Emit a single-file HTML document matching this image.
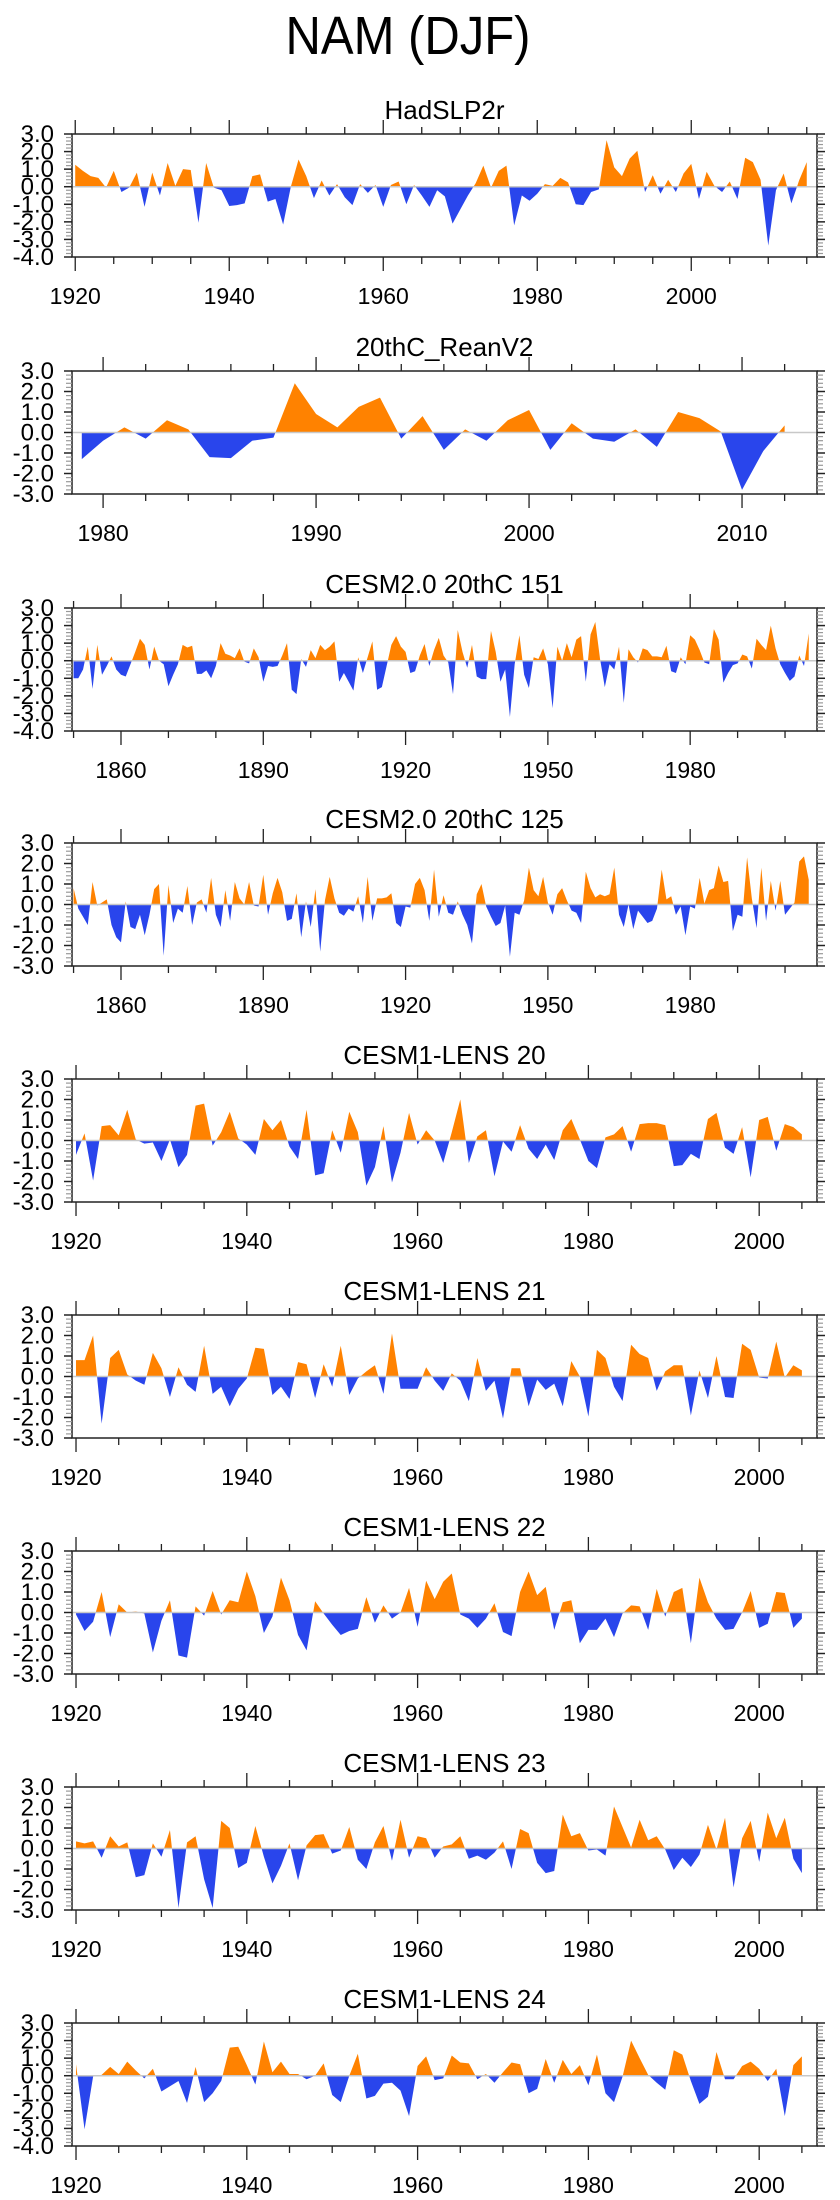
<!DOCTYPE html>
<html>
<head>
<meta charset="utf-8">
<style>
html,body{margin:0;padding:0;background:#fff;}
svg{display:block;}
text{font-family:"Liberation Sans",Arial,sans-serif;fill:#000;}
</style>
</head>
<body>
<svg id="fig" xmlns="http://www.w3.org/2000/svg" width="840" height="2200" viewBox="0 0 840 2200">
<text x="408" y="54" font-size="54" text-anchor="middle" textLength="245" lengthAdjust="spacingAndGlyphs">NAM (DJF)</text>
</svg>
<script>
// ---- data ----
const panelTitles = ["HadSLP2r","20thC_ReanV2","CESM2.0 20thC 151","CESM2.0 20thC 125","CESM1-LENS 20","CESM1-LENS 21","CESM1-LENS 22","CESM1-LENS 23","CESM1-LENS 24"];
const p1StartYear = 1920;
const p1Values = [1.25,0.9,0.6,0.5,-0.05,0.9,-0.3,-0.05,0.8,-1.15,0.8,-0.5,1.35,0.05,1.0,0.95,-2.05,1.35,-0.05,-0.2,-1.1,-1.05,-0.95,0.6,0.7,-0.85,-0.7,-2.15,0.0,1.55,0.6,-0.65,0.35,-0.5,0.15,-0.6,-1.05,0.15,-0.35,0.1,-1.15,0.1,0.3,-1.0,0.1,-0.5,-1.15,-0.2,-0.55,-2.1,-1.3,-0.5,0.2,1.2,-0.05,0.9,1.2,-2.2,-0.5,-0.8,-0.4,0.15,0.05,0.5,0.25,-1.0,-1.05,-0.3,-0.15,2.65,1.1,0.6,1.6,2.05,-0.3,0.65,-0.4,0.4,-0.3,0.75,1.3,-0.7,0.85,0.05,-0.3,0.3,-0.7,1.65,1.4,0.4,-3.35,-0.2,0.75,-0.95,0.35,1.4];
const p2StartYear = 1979;
const p2Values = [-1.3,-0.4,0.25,-0.3,0.6,0.15,-1.2,-1.25,-0.4,-0.25,2.4,0.9,0.25,1.25,1.7,-0.3,0.8,-0.85,0.15,-0.4,0.6,1.1,-0.85,0.45,-0.3,-0.45,0.15,-0.7,1.0,0.7,0.05,-2.8,-0.9,0.35];
const p3StartYear = 1850;
const p3Values = [-1.0,-1.0,-0.5,0.8,-1.6,0.9,-0.8,-0.3,0.25,-0.5,-0.8,-0.9,-0.2,0.5,1.25,0.9,-0.5,0.8,0.0,-0.2,-1.45,-0.8,-0.2,0.9,0.75,0.85,-0.75,-0.75,-0.55,-1.0,-0.3,1.0,0.4,0.3,0.15,0.7,-0.05,-0.15,0.7,0.2,-1.2,-0.3,-0.35,-0.3,0.3,1.0,-1.65,-1.9,0.1,-0.35,0.6,0.15,0.9,0.6,0.8,1.1,-1.2,-0.7,-1.2,-1.7,0.2,-0.7,0.2,1.1,-1.65,-1.5,-0.3,0.9,1.4,0.8,0.5,-0.7,-0.6,0.3,0.95,-0.3,0.6,1.3,0.3,-0.1,-1.9,1.75,0.5,-0.4,0.9,-0.9,-1.05,-1.05,1.7,0.5,-1.2,-0.5,-3.2,-0.2,1.45,-0.8,-1.55,0.2,0.1,0.7,-0.2,-2.7,0.8,0.0,1.0,0.2,1.2,1.4,-1.2,1.5,2.2,0.1,-1.5,-0.2,-0.5,0.8,-2.4,0.65,0.2,-0.1,0.7,0.6,0.25,0.25,0.2,0.85,-0.6,-0.7,0.2,-0.2,1.45,1.2,0.6,-0.1,-0.2,1.8,1.2,-1.25,-0.7,-0.25,-0.15,0.35,0.25,-0.45,1.25,0.9,0.6,2.0,0.7,-0.2,-0.7,-1.15,-0.9,0.3,-0.3,1.55];
const p4StartYear = 1850;
const p4Values = [0.8,-0.2,-0.6,-1.0,1.1,-0.05,0.1,0.25,-1.0,-1.6,-1.85,0.15,-1.1,-1.2,-0.5,-1.5,-0.5,0.75,1.0,-2.5,0.95,-0.9,-0.2,-0.4,0.9,-1.0,0.1,0.25,-0.4,1.3,-0.5,-1.1,0.7,-0.8,1.1,0.3,0.0,1.1,-0.05,-0.1,1.45,-0.5,0.55,1.3,0.6,-0.8,-0.7,0.55,-1.6,0.15,-1.1,0.75,-2.3,0.2,1.35,0.3,-0.4,-0.55,-0.2,-0.35,0.4,-0.9,1.35,-0.8,0.3,0.3,0.35,0.55,-0.9,-1.1,-0.1,-0.15,1.0,1.3,0.7,-0.8,1.7,-0.6,0.45,-0.4,-0.5,0.15,-0.5,-1.0,-1.9,0.5,1.0,-0.1,-0.6,-1.05,-0.9,-0.05,-2.55,-0.4,-0.5,0.2,1.8,0.7,0.4,1.35,0.1,-0.5,0.5,0.8,0.2,-0.3,-0.4,-0.9,1.6,0.8,0.35,0.5,0.4,0.5,1.8,-0.5,-1.1,0.0,-1.2,-0.3,-0.6,-0.9,-0.8,-0.2,1.7,0.25,0.4,-0.5,-0.1,-1.5,-0.1,-0.2,1.3,0.05,0.7,0.8,1.9,1.1,1.15,-1.3,-0.5,-0.6,2.3,0.3,-1.15,1.8,-0.8,1.15,-0.3,1.15,-0.5,-0.2,0.1,2.1,2.35,1.2];
const p5StartYear = 1920;
const p5Values = [-0.7,0.35,-1.95,0.7,0.75,0.25,1.5,0.05,-0.15,-0.1,-1.0,0.05,-1.3,-0.7,1.7,1.8,-0.25,0.4,1.4,0.1,-0.2,-0.7,1.05,0.5,1.0,-0.3,-0.9,1.5,-1.7,-1.6,0.5,-0.6,1.4,0.4,-2.2,-1.3,0.7,-2.05,-0.6,1.35,-0.2,0.5,0.0,-1.1,0.4,2.0,-1.1,0.2,0.5,-1.75,-0.05,-0.55,0.75,-0.4,-0.9,-0.2,-0.95,0.5,1.05,0.05,-1.0,-1.35,0.15,0.3,0.7,-0.55,0.8,0.85,0.85,0.75,-1.25,-1.2,-0.65,-0.9,1.05,1.35,-0.35,-0.65,0.65,-1.8,1.0,1.15,-0.5,0.8,0.65,0.3];
const p6StartYear = 1920;
const p6Values = [0.8,0.8,2.0,-2.3,0.9,1.3,0.1,-0.2,-0.4,1.15,0.4,-1.0,0.45,-0.4,-0.75,1.5,-0.85,-0.5,-1.45,-0.6,-0.1,1.4,1.35,-0.9,-0.5,-1.1,0.7,0.6,-1.05,0.6,-0.5,1.5,-0.9,-0.1,0.25,0.55,-0.85,2.1,-0.6,-0.6,-0.6,0.45,-0.2,-0.7,0.15,-0.2,-1.2,0.9,-0.7,-0.2,-2.05,0.4,0.4,-1.45,-0.15,-0.65,-0.35,-1.45,0.75,0.0,-1.95,1.3,0.9,-0.5,-1.2,1.55,1.1,0.9,-0.7,0.25,0.55,0.55,-1.9,0.3,-1.05,1.0,-1.0,-1.05,1.6,1.3,-0.05,-0.1,1.7,-0.05,0.55,0.3];
const p7StartYear = 1920;
const p7Values = [-0.1,-0.9,-0.45,1.0,-1.2,0.4,0.0,0.05,-0.05,-1.95,-0.4,0.6,-2.1,-2.2,0.3,-0.15,1.05,-0.1,0.6,0.5,2.0,0.8,-1.0,-0.2,1.7,0.6,-1.1,-1.85,0.55,-0.05,-0.6,-1.1,-0.9,-0.8,0.75,-0.5,0.35,-0.3,0.0,1.2,-0.7,1.55,0.65,1.5,1.9,-0.1,-0.3,-0.75,-0.3,0.45,-0.95,-1.15,1.0,2.0,0.85,1.25,-0.85,0.5,0.6,-1.5,-0.85,-0.85,-0.3,-1.2,-0.05,0.35,0.3,-0.85,1.15,-0.2,1.0,1.2,-1.5,1.7,0.5,-0.3,-0.85,-0.8,0.0,1.05,-0.75,-0.55,1.0,0.95,-0.75,-0.3];
const p8StartYear = 1920;
const p8Values = [0.35,0.25,0.35,-0.45,0.6,0.1,0.3,-1.4,-1.3,0.25,-0.4,0.9,-2.9,0.3,0.6,-1.5,-2.9,1.35,1.0,-0.95,-0.7,1.1,-0.4,-1.7,-0.85,0.25,-1.55,0.15,0.65,0.7,-0.25,-0.1,1.05,-0.55,-1.0,0.3,1.1,-0.6,1.4,-0.45,0.6,0.5,-0.45,0.1,0.2,0.6,-0.5,-0.35,-0.55,-0.2,0.35,-1.0,0.95,0.75,-0.7,-1.2,-1.1,1.65,0.6,0.75,-0.1,-0.05,-0.35,2.05,1.05,0.05,1.4,0.4,0.6,-0.05,-1.05,-0.45,-0.9,-0.3,1.15,-0.05,1.5,-1.9,0.5,1.35,-0.65,1.75,0.5,1.5,-0.5,-1.2];
const p9StartYear = 1920;
const p9Values = [0.65,-3.05,-0.05,0.05,0.5,0.1,0.8,0.3,-0.15,0.4,-0.9,-0.6,-0.3,-1.55,0.5,-1.5,-1.0,-0.3,1.6,1.65,0.6,-0.5,1.95,0.2,0.8,0.1,0.1,-0.2,0.0,0.7,-1.1,-1.5,0.0,1.25,-1.3,-1.15,-0.45,-0.4,-0.85,-2.3,0.55,1.1,-0.25,-0.15,1.15,0.75,0.7,-0.2,0.1,-0.4,0.2,0.75,0.65,-1.0,-0.75,0.95,-0.4,0.9,0.1,0.6,-0.55,1.2,-1.0,-1.5,-0.05,2.0,1.0,0.05,-0.4,-0.8,1.45,1.2,-0.3,-1.6,-1.2,1.35,-0.2,-0.2,0.55,0.8,0.4,-0.3,0.4,-2.3,0.6,1.1];
const yTickLabels7 = ["3.0","2.0","1.0","0.0","-1.0","-2.0","-3.0","-4.0"];
const yTickLabels6 = ["3.0","2.0","1.0","0.0","-1.0","-2.0","-3.0"];

// ---- layout ----
const NS = "http://www.w3.org/2000/svg";
const svg = document.getElementById("fig");
const BOX_L = 72, BOX_R = 817, BOX_H = 123;
const panels = [
 {top:134, start:p1StartYear, vals:p1Values, ylab:yTickLabels7, xmin:1919.58, xmax:2016.33, maj:20, min:5},
 {top:371, start:p2StartYear, vals:p2Values, ylab:yTickLabels6, xmin:1978.54, xmax:2013.52, maj:10, min:2},
 {top:608, start:p3StartYear, vals:p3Values, ylab:yTickLabels7, xmin:1849.67, xmax:2006.74, maj:30, min:10},
 {top:843, start:p4StartYear, vals:p4Values, ylab:yTickLabels6, xmin:1849.67, xmax:2006.74, maj:30, min:10},
 {top:1079, start:p5StartYear, vals:p5Values, ylab:yTickLabels6, xmin:1919.53, xmax:2006.77, maj:20, min:5},
 {top:1315, start:p6StartYear, vals:p6Values, ylab:yTickLabels6, xmin:1919.53, xmax:2006.77, maj:20, min:5},
 {top:1551, start:p7StartYear, vals:p7Values, ylab:yTickLabels6, xmin:1919.53, xmax:2006.77, maj:20, min:5},
 {top:1787, start:p8StartYear, vals:p8Values, ylab:yTickLabels6, xmin:1919.53, xmax:2006.77, maj:20, min:5},
 {top:2023, start:p9StartYear, vals:p9Values, ylab:yTickLabels7, xmin:1919.53, xmax:2006.77, maj:20, min:5}
];

function mk(tag, attrs){
  const e = document.createElementNS(NS, tag);
  for (const k in attrs) e.setAttribute(k, attrs[k]);
  return e;
}

panels.forEach(function(p, pi){
  const g = mk("g", {});
  
  
  svg.appendChild(g);
  const top = p.top, bot = p.top + BOX_H;
  const ymax = parseFloat(p.ylab[0]), ymin = parseFloat(p.ylab[p.ylab.length-1]);
  const xs = function(yr){ return BOX_L + (yr - p.xmin) / (p.xmax - p.xmin) * (BOX_R - BOX_L); };
  const ys = function(v){ return top + (ymax - v) / (ymax - ymin) * BOX_H; };

  const t = mk("text", {x:(BOX_L+BOX_R)/2, y:top-15, "font-size":26, "text-anchor":"middle"});
  t.textContent = panelTitles[pi];
  
  
  g.appendChild(t);

  const pts = [];
  for (let i = 0; i < p.vals.length; i++){
    const x = p.start + i, v = p.vals[i];
    if (i > 0){
      const pv = p.vals[i-1];
      if ((pv > 0 && v < 0) || (pv < 0 && v > 0)){
        const f = pv / (pv - v);
        pts.push([x - 1 + f, 0]);
      }
    }
    pts.push([x, v]);
  }
  const x0 = pts[0][0], xn = pts[pts.length-1][0];
  let dPos = "M" + xs(x0) + "," + ys(0);
  let dNeg = "M" + xs(x0) + "," + ys(0);
  pts.forEach(function(q){
    dPos += " L" + xs(q[0]).toFixed(2) + "," + ys(Math.max(q[1],0)).toFixed(2);
    dNeg += " L" + xs(q[0]).toFixed(2) + "," + ys(Math.min(q[1],0)).toFixed(2);
  });
  dPos += " L" + xs(xn) + "," + ys(0) + " Z";
  dNeg += " L" + xs(xn) + "," + ys(0) + " Z";
  const pos = mk("path", {d:dPos, fill:"#ff8200", stroke:"none"});
  
  
  g.appendChild(pos);
  const neg = mk("path", {d:dNeg, fill:"#2945ec", stroke:"none"});
  
  
  g.appendChild(neg);

  const zl = mk("line", {x1:BOX_L, x2:BOX_R, y1:ys(0), y2:ys(0), stroke:"#c8c8c8", "stroke-width":1.5});
  
  
  g.appendChild(zl);

  const box = mk("rect", {x:BOX_L, y:top, width:BOX_R-BOX_L, height:BOX_H, fill:"none", stroke:"#222", "stroke-width":1.5});
  
  
  g.appendChild(box);

  for (let v = ymin; v <= ymax + 1e-6; v += 0.2){
    const vv = Math.round(v*10)/10;
    const major = Math.abs(vv - Math.round(vv)) < 1e-6;
    const len = major ? 8 : 6;
    const col = major ? "#222" : "#999";
    const y = ys(vv);
    const l1 = mk("line", {x1:BOX_L-len, x2:BOX_L, y1:y, y2:y, stroke:col, "stroke-width":major?1.5:1.2});
    
    
    g.appendChild(l1);
    const l2 = mk("line", {x1:BOX_R, x2:BOX_R+len, y1:y, y2:y, stroke:col, "stroke-width":major?1.5:1.2});
    
    
    g.appendChild(l2);
  }
  p.ylab.forEach(function(lab){
    const tx = mk("text", {x:BOX_L-18, y:ys(parseFloat(lab))+8, "font-size":24, "text-anchor":"end"});
    tx.textContent = lab;
    
    
    g.appendChild(tx);
  });

  const firstMin = Math.ceil(p.xmin / p.min) * p.min;
  for (let yr = firstMin; yr <= p.xmax; yr += p.min){
    const major = (yr % p.maj) === 0;
    const len = major ? 14 : 7;
    const x = xs(yr);
    const tb = mk("line", {x1:x, x2:x, y1:bot, y2:bot+len, stroke:"#222", "stroke-width":1.3});
    
    
    g.appendChild(tb);
    const tt = mk("line", {x1:x, x2:x, y1:top-len, y2:top, stroke:"#222", "stroke-width":1.3});
    
    
    g.appendChild(tt);
    if (major){
      const lb = mk("text", {x:x, y:bot+47, "font-size":23, "text-anchor":"middle"});
      lb.textContent = String(yr);
      
      
      g.appendChild(lb);
    }
  }
});
</script>
</body>
</html>
